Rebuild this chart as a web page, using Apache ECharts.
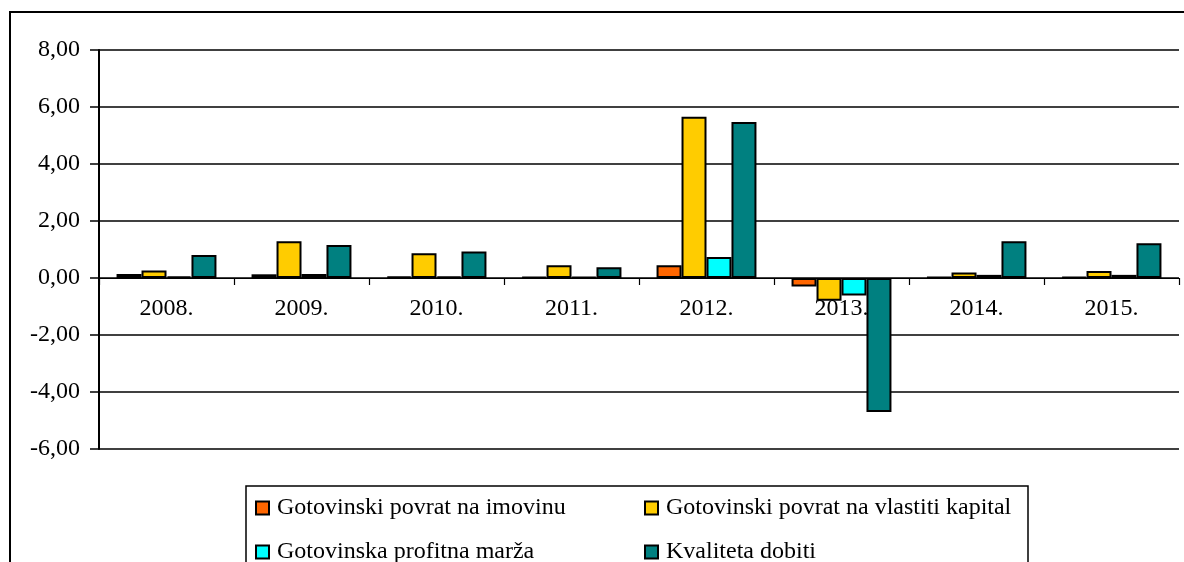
<!DOCTYPE html>
<html>
<head>
<meta charset="utf-8">
<script src="https://cdn.jsdelivr.net/npm/echarts@6/dist/echarts.min.js"></script>
<style>
  html, body { margin: 0; padding: 0; background: #fff; }
  #chart { width: 1184px; height: 562px; }
</style>
</head>
<body>
<div id="chart"></div>
<script>
// Years on the category axis
const years = ['2008.', '2009.', '2010.', '2011.', '2012.', '2013.', '2014.', '2015.'];

// Indicator values per year
const povratImovina = [0.14, 0.13, 0.05, 0.04, 0.45, -0.30, 0.03, 0.04];
const povratKapital = [0.26, 1.29, 0.87, 0.45, 5.66, -0.80, 0.19, 0.25];
const profitnaMarza = [0.06, 0.14, 0.05, 0.04, 0.74, -0.61, 0.11, 0.11];
const kvalitetaDobiti = [0.81, 1.16, 0.93, 0.38, 5.47, -4.70, 1.29, 1.22];

const seriesNames = [
  'Gotovinski povrat na imovinu',
  'Gotovinski povrat na vlastiti kapital',
  'Gotovinska profitna marža',
  'Kvaliteta dobiti'
];
const seriesColors = ['#FF6600', '#FFCC00', '#00FFFF', '#008080'];
const seriesData = [povratImovina, povratKapital, profitnaMarza, kvalitetaDobiti];

// Legend slots: two columns, two rows
const legendLeft = [255, 644, 255, 644];
const legendTop = [495, 495, 539, 539];

const FONT = '"Liberation Serif", "Times New Roman", serif';

const chart = echarts.init(document.getElementById('chart'), null, { renderer: 'canvas' });

const series = seriesNames.map((name, i) => ({
  name: name,
  type: 'bar',
  data: seriesData[i],
  barGap: '0%',
  barCategoryGap: '26%',
  itemStyle: { color: seriesColors[i], borderColor: '#000', borderWidth: 2 },
  emphasis: { disabled: true }
}));

const legends = seriesNames.map((name, i) => ({
  data: [name],
  left: legendLeft[i],
  top: legendTop[i],
  padding: 0,
  itemWidth: 13,
  itemHeight: 13,
  icon: 'rect',
  selectedMode: false,
  textStyle: { fontFamily: FONT, fontSize: 24, lineHeight: 26, color: '#000', padding: [0, 0, 0, 3] }
}));

const option = {
  animation: false,
  backgroundColor: '#fff',
  textStyle: { fontFamily: FONT },
  grid: { left: 99, right: 5, top: 50, bottom: 113, containLabel: false },
  graphic: [
    {
      type: 'rect',
      shape: { x: 10, y: 12, width: 1250, height: 700 },
      style: { fill: 'none', stroke: '#000', lineWidth: 2 },
      z: 100
    },
    {
      type: 'rect',
      shape: { x: 246, y: 486, width: 782, height: 200 },
      style: { fill: 'none', stroke: '#000', lineWidth: 1.5 },
      z: 100
    }
  ],
  legend: legends,
  xAxis: {
    type: 'category',
    data: years,
    axisLine: { onZero: false, lineStyle: { color: '#000', width: 1.2 } },
    axisTick: { show: true, length: 7, lineStyle: { color: '#000', width: 1.2 } },
    axisLabel: { color: '#000', fontFamily: FONT, fontSize: 24, margin: 19 },
    splitLine: { show: false }
  },
  yAxis: {
    type: 'value',
    min: -6,
    max: 8,
    interval: 2,
    axisLine: { show: true, lineStyle: { color: '#000', width: 2 } },
    axisTick: { show: true, length: 9, lineStyle: { color: '#000', width: 1.5 } },
    axisLabel: {
      color: '#000',
      fontFamily: FONT,
      fontSize: 24,
      margin: 19,
      formatter: v => v.toFixed(2).replace('.', ',')
    },
    splitLine: { show: true, lineStyle: { color: '#000', width: 1.5 } }
  },
  series: series
};

chart.setOption(option);

// Move the category axis (line, ticks and labels) up to the zero level of the value axis
const zeroY = chart.convertToPixel({ yAxisIndex: 0 }, 0);
const minY = chart.convertToPixel({ yAxisIndex: 0 }, -6);
chart.setOption({ xAxis: { offset: -(minY - zeroY) } });
</script>
</body>
</html>
